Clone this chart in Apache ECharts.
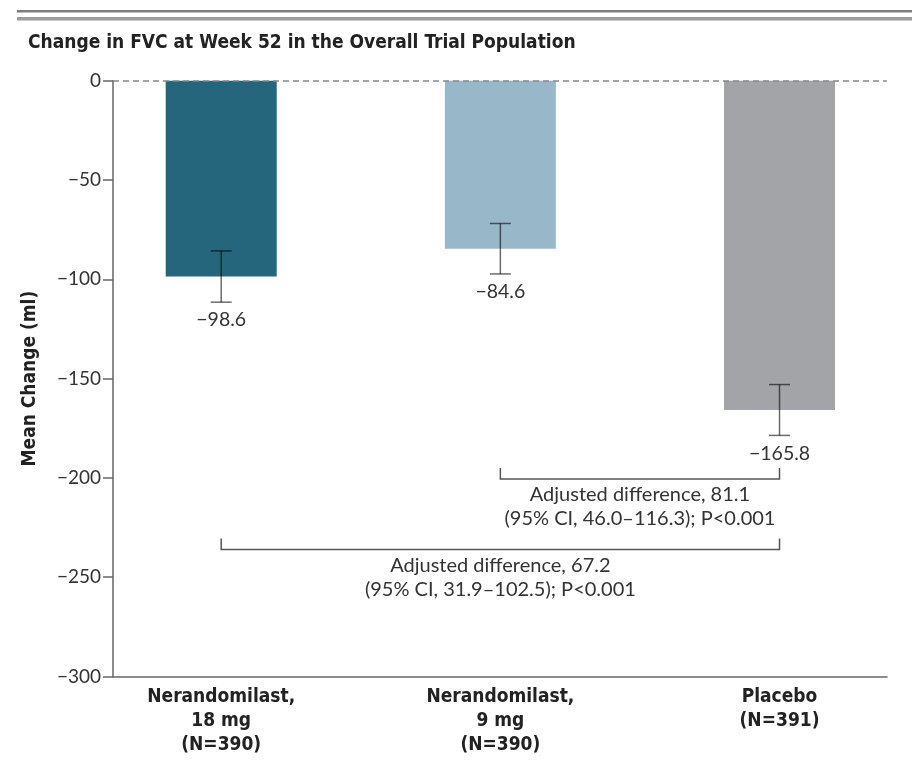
<!DOCTYPE html>
<html>
<head>
<meta charset="utf-8">
<script src="https://cdn.jsdelivr.net/npm/echarts@6/dist/echarts.min.js"></script>
<style>
  html, body { margin: 0; padding: 0; background: #fff; }
  #chart { width: 912px; height: 783px; }
</style>
</head>
<body>
<div id="chart"></div>
<script>
// Treatment groups and week-52 FVC results (ml)
const groups = ['Nerandomilast,\n18 mg\n(N=390)', 'Nerandomilast,\n9 mg\n(N=390)', 'Placebo\n(N=391)'];
const meanChange = [-98.6, -84.6, -165.8];
const errLow = [-111.5, -97.3, -178.6];
const errHigh = [-85.7, -71.9, -153.0];
const yTicks = [0, -50, -100, -150, -200, -250, -300];

// Pairwise comparisons against placebo (group indices) and their annotations
const comparisonPairs = [[1, 2], [0, 2]];
const comparisonLabels = [
  'Adjusted difference, 81.1\n(95% CI, 46.0–116.3); P<0.001',
  'Adjusted difference, 67.2\n(95% CI, 31.9–102.5); P<0.001'
];

// Styling
const barColors = ['#25667c', '#98b8c9', '#a3a4a8'];
const bracketLevels = [[-195, -200.5], [-230.5, -236]];
const boldFont = "'Liberation Sans Narrow', 'DejaVu Sans Condensed', 'Open Sans', sans-serif";
const textFont = "Lato, 'Open Sans', sans-serif";
const fmtMinus = v => (v < 0 ? '\u2212' + Math.abs(v) : String(v));

const chart = echarts.init(document.getElementById('chart'), null, { renderer: 'canvas' });

chart.setOption({
  animation: false,
  backgroundColor: '#fff',
  graphic: [
    { type: 'rect', shape: { x: 17, y: 10, width: 895, height: 2.5 }, style: { fill: '#7e7e7e' } },
    { type: 'rect', shape: { x: 17, y: 17, width: 895, height: 3.5 }, style: { fill: '#9c9c9c' } }
  ],
  title: {
    text: 'Change in FVC at Week 52 in the Overall Trial Population',
    left: 28,
    top: 34,
    padding: 0,
    textStyle: { fontFamily: boldFont, fontWeight: 'bold', fontSize: 19, color: '#222' }
  },
  grid: { left: 113, right: 25, top: 80.7, bottom: 106.5, containLabel: false },
  xAxis: {
    type: 'value',
    min: -0.3876,
    max: 2.385,
    axisLine: { show: true, onZero: false, lineStyle: { color: '#666', width: 1.5 } },
    axisTick: { show: false },
    splitLine: { show: false },
    axisLabel: {
      customValues: [0, 1, 2],
      formatter: v => groups[Math.round(v)],
      fontFamily: boldFont,
      fontWeight: 'bold',
      fontSize: 19,
      lineHeight: 24,
      color: '#222',
      margin: 9
    }
  },
  yAxis: {
    type: 'value',
    min: -300,
    max: 0,
    interval: 50,
    name: 'Mean Change (ml)',
    nameLocation: 'middle',
    nameGap: 73,
    nameTextStyle: { fontFamily: boldFont, fontWeight: 'bold', fontSize: 19, color: '#222' },
    axisLine: { show: true, onZero: false, lineStyle: { color: '#666', width: 1.5 } },
    axisTick: { show: true, length: 10, lineStyle: { color: '#666', width: 1.5 } },
    splitLine: { show: false },
    axisLabel: {
      customValues: yTicks,
      formatter: fmtMinus,
      fontFamily: textFont,
      fontSize: 19,
      color: '#333',
      margin: 12
    }
  },
  series: [
    {
      type: 'bar',
      barWidth: 111,
      data: meanChange.map((v, i) => ({ value: [i, v], itemStyle: { color: barColors[i] } })),
      markLine: {
        silent: true,
        symbol: 'none',
        z: 5,
        label: { show: false },
        lineStyle: { type: [6, 4], color: '#888', width: 1.5 },
        data: [{ yAxis: 0 }]
      }
    },
    {
      // Error bars with the mean value written beneath each
      type: 'custom',
      z: 10,
      data: meanChange.map((v, i) => [i, errLow[i], errHigh[i], v]),
      renderItem(params, api) {
        const x = api.value(0);
        const lo = api.coord([x, api.value(1)]);
        const hi = api.coord([x, api.value(2)]);
        const half = 10.5;
        const stroke = { stroke: 'rgba(0,0,0,0.58)', lineWidth: 1.5 };
        return {
          type: 'group',
          children: [
            { type: 'line', shape: { x1: lo[0], y1: lo[1], x2: hi[0], y2: hi[1] }, style: stroke },
            { type: 'line', shape: { x1: lo[0] - half, y1: lo[1], x2: lo[0] + half, y2: lo[1] }, style: stroke },
            { type: 'line', shape: { x1: hi[0] - half, y1: hi[1], x2: hi[0] + half, y2: hi[1] }, style: stroke },
            {
              type: 'text',
              style: {
                text: fmtMinus(api.value(3)),
                x: lo[0], y: lo[1] + 18,
                align: 'center', verticalAlign: 'middle',
                font: '19.5px ' + textFont,
                fill: '#333'
              }
            }
          ]
        };
      }
    },
    {
      // Comparison brackets with adjusted differences
      type: 'custom',
      z: 10,
      data: comparisonPairs.map((p, i) => [p[0], p[1], i]),
      renderItem(params, api) {
        const k = api.value(2);
        const [tickTop, level] = bracketLevels[k];
        const a0 = api.coord([api.value(0), tickTop]);
        const a1 = api.coord([api.value(0), level]);
        const b1 = api.coord([api.value(1), level]);
        const b0 = api.coord([api.value(1), tickTop]);
        return {
          type: 'group',
          children: [
            {
              type: 'polyline',
              shape: { points: [a0, a1, b1, b0] },
              style: { stroke: '#555', lineWidth: 1.5, fill: null }
            },
            {
              type: 'text',
              style: {
                text: comparisonLabels[k],
                x: (a1[0] + b1[0]) / 2, y: a1[1] + 4,
                align: 'center', verticalAlign: 'top',
                font: '20px ' + textFont,
                lineHeight: 24,
                fill: '#333'
              }
            }
          ]
        };
      }
    }
  ]
});
</script>
</body>
</html>
